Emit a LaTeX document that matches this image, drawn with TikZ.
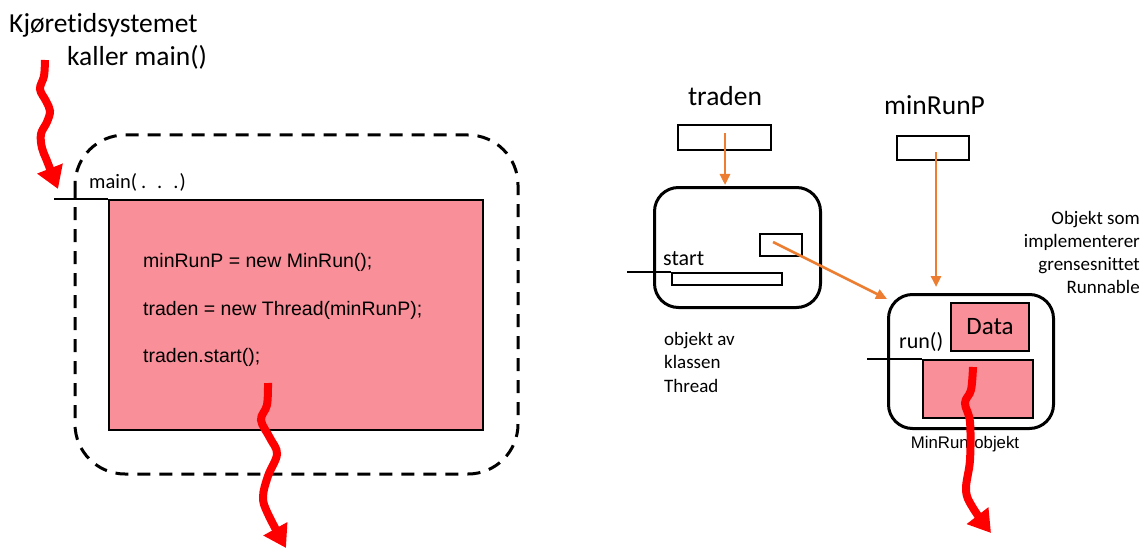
\documentclass[tikz,border=0pt]{standalone}
\usepackage{fontspec}
\setmainfont{Carlito}[Ligatures=NoCommon]
\newfontfamily\arialfont{Liberation Sans}
\usetikzlibrary{arrows.meta}
\definecolor{codepink}{HTML}{F88F99}
\definecolor{refline}{HTML}{ED7D31}
\definecolor{flowred}{HTML}{FF0000}
\begin{document}
\begin{tikzpicture}[x=1pt,y=-1pt,
  big/.style={inner sep=0pt, font=\fontsize{27.5}{30}\selectfont},
  mid/.style={inner sep=0pt, font=\fontsize{19}{23}\selectfont},
  method/.style={inner sep=0pt, font=\fontsize{22}{24}\selectfont},
  small/.style={inner sep=0pt, font=\fontsize{20.5}{22}\selectfont},
  code/.style={inner sep=0pt, font=\arialfont\fontsize{19.5}{22}\selectfont},
  caption/.style={inner sep=0pt, font=\arialfont\fontsize{16.8}{19}\selectfont},
  objbox/.style={draw, line width=3pt, rounded corners=24pt},
  refbox/.style={draw, line width=2pt},
  body/.style={draw, line width=2pt, fill=codepink},
  entry/.style={line width=1.5pt},
  ref/.style={draw=refline, line width=2.5pt, -{Triangle[length=11pt,width=10pt]}},
  flow/.style={draw=flowred, line width=8pt, line cap=butt,
    -{Triangle[length=22pt,width=26pt]}},
]
\useasboundingbox (0,0) rectangle (1147,548);

% ---------- main method ----------
\node[big, anchor=base west] (title1) at (9,33) {Kjøretidsystemet};
\node[big, anchor=base west] (title2) at (67,66) {kaller main()};

\draw[line width=3pt, dash pattern=on 13pt off 9pt, rounded corners=50pt]
  (75,135) rectangle (518,474);

\node[small, anchor=base west] (mainlbl) at (89,188)
  {main(\hspace{4pt}.\hspace{11pt}.\hspace{11pt}.\hspace{1pt})};
\coordinate (mainentry) at (54,199);
\node[body, minimum width=374pt, minimum height=230pt, anchor=north west]
  (mainbody) at (108,199) {};
\draw[entry] (mainentry) -- (mainbody.north west);

\node[code, anchor=base west] (c1) at (143,267) {minRunP = new MinRun();};
\node[code, anchor=base west] (c2) at (143,315) {traden = new Thread(minRunP);};
\node[code, anchor=base west] (c3) at (143,362) {traden.start();};

% ---------- Thread object ----------
\node[big, anchor=base] (tradenlbl) at (725,106) {traden};
\node[refbox, minimum width=93pt, minimum height=25pt, anchor=north west]
  (tradenref) at (677,124) {};
\node[objbox, minimum width=166pt, minimum height=120pt, anchor=north west]
  (thread) at (653,186) {};
\node[refbox, minimum width=42pt, minimum height=22pt, anchor=north west]
  (target) at (759,233) {};
\node[method, anchor=base west] (startlbl) at (663,265) {start};
\coordinate (startentry) at (627,272);
\node[refbox, minimum width=110pt, minimum height=12pt, anchor=north west]
  (startbody) at (671,272) {};
\draw[entry] (startentry) -- (startbody.north west);
\node[mid, anchor=base west, align=left] (threadcap) at (664,392)
  {objekt av\\[0.5pt]klassen\\[0.5pt]Thread};

% ---------- MinRun object ----------
\node[big, anchor=base west] (minlbl) at (884,115) {minRunP};
\node[refbox, minimum width=72pt, minimum height=24pt, anchor=north west]
  (minref) at (896,135) {};
\node[objbox, minimum width=165pt, minimum height=134pt, anchor=north west]
  (minrun) at (887,293) {};
\node[body, minimum width=78pt, minimum height=48pt, anchor=north west]
  (data) at (950,302) {};
\node[inner sep=0pt, font=\fontsize{25}{27}\selectfont] (datalbl) at (data.center) {Data};
\node[method, anchor=base west] (runlbl) at (899,348) {run()};
\coordinate (runentry) at (867,359);
\node[body, minimum width=110pt, minimum height=58pt, anchor=north west]
  (runbody) at (922,359) {};
\draw[entry] (runentry) -- (runbody.north west);
\node[mid, anchor=base east, align=right] (runnable) at (1140,293)
  {Objekt som\\implementerer\\grensesnittet\\Runnable};
\node[caption, anchor=base] (mincap) at (965,448) {MinRun-objekt};

% ---------- references ----------
\coordinate (tradenfrom) at (725,133);
\coordinate (tradento) at (725,185);
\draw[ref] (tradenfrom) -- (tradento);
\coordinate (targetfrom) at (773,242);
\coordinate (targetto) at (887,299);
\draw[ref] (targetfrom) -- (targetto);
\coordinate (minfrom) at (936,152);
\coordinate (minto) at (936,287);
\draw[ref] (minfrom) -- (minto);

% ---------- threads of execution ----------
\coordinate (f1a) at (45,60);
\coordinate (f1b) at (58,189);
\draw[flow] plot[smooth, tension=0.6] coordinates
  {(f1a) (44,76) (40,89) (46,101) (50,111) (47,122) (41,134) (42,148) (47,161) (f1b)};
\coordinate (f2a) at (268,383);
\coordinate (f2b) at (286,548);
\draw[flow] plot[smooth, tension=0.6] coordinates
  {(f2a) (267,405) (261,420) (270,438) (277,454) (268,476) (263,497) (268,514) (f2b)};
\coordinate (f3a) at (973,367);
\coordinate (f3b) at (991,533);
\draw[flow] plot[smooth, tension=0.6] coordinates
  {(f3a) (971,390) (965,403) (970,422) (970,460) (966,490) (973,508) (f3b)};
\end{tikzpicture}
\end{document}
